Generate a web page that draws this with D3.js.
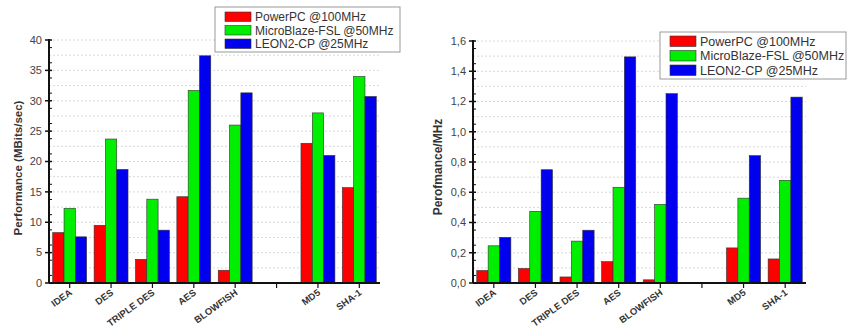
<!DOCTYPE html>
<html lang="en">
<head>
<meta charset="UTF-8">
<title>Performance comparison</title>
<script src="https://d3js.org/d3.v7.min.js"></script>
<style>
  body { margin: 0; background: #fff; }
  svg { font-family: "Liberation Sans", Arial, sans-serif; }
</style>
</head>
<body>
<div id="chart"></div>
<script>
// categories (the empty one is the gap between ciphers and hashes)
const categories = ["IDEA", "DES", "TRIPLE DES", "AES", "BLOWFISH", "", "MD5", "SHA-1"];
const seriesNames = ["PowerPC @100MHz", "MicroBlaze-FSL @50MHz", "LEON2-CP @25MHz"];
const seriesColors = ["#ff0000", "#00ee00", "#0000ee"];

// left chart: Performance (MBits/sec)
const ppcMbits   = [8.3, 9.5, 3.9, 14.2, 2.1, null, 23.0, 15.7];
const mbMbits    = [12.3, 23.7, 13.8, 31.7, 26.0, null, 28.0, 34.0];
const leonMbits  = [7.6, 18.7, 8.7, 37.4, 31.3, null, 21.0, 30.7];
const mbitsTicks = [0, 5, 10, 15, 20, 25, 30, 35, 40];

// right chart: Performance/MHz
const ppcMhz   = [0.083, 0.096, 0.040, 0.141, 0.021, null, 0.232, 0.159];
const mbMhz    = [0.246, 0.474, 0.277, 0.633, 0.520, null, 0.561, 0.679];
const leonMhz  = [0.302, 0.749, 0.349, 1.495, 1.252, null, 0.842, 1.229];
const mhzTicks = [0, 0.2, 0.4, 0.6, 0.8, 1.0, 1.2, 1.4, 1.6];

const svg = d3.select("#chart").append("svg")
  .attr("width", 848).attr("height", 333);

function drawChart(opt) {
  const g = svg.append("g");
  const x = d3.scaleBand().domain(d3.range(categories.length))
    .range([opt.x0, opt.x1]).padding(0);
  const groupW = x.bandwidth() * 0.82;
  const xs = d3.scaleBand().domain(d3.range(seriesNames.length)).range([0, groupW]);
  const y = d3.scaleLinear().domain([0, opt.max]).range([opt.yBottom, opt.yTop]);

  // grid (major + minor)
  const gridVals = d3.range(0, opt.max + opt.minor / 2, opt.minor).slice(1);
  g.append("g").selectAll("line").data(gridVals).join("line")
    .attr("x1", opt.x0).attr("x2", opt.x1)
    .attr("y1", d => y(d)).attr("y2", d => y(d))
    .attr("stroke", "#d8d8d8").attr("stroke-dasharray", "2,2");

  // bars
  opt.series.forEach((vals, si) => {
    g.append("g").selectAll("rect")
      .data(vals.map((v, i) => ({ v, i })).filter(d => d.v != null))
      .join("rect")
      .attr("x", d => x(d.i) + (x.bandwidth() - groupW) / 2 + xs(si))
      .attr("width", xs.bandwidth())
      .attr("y", d => y(d.v))
      .attr("height", d => y(0) - y(d.v))
      .attr("fill", seriesColors[si])
      .attr("stroke", "#333").attr("stroke-width", 0.6);
  });

  // y axis
  g.append("line").attr("x1", opt.x0).attr("x2", opt.x0)
    .attr("y1", y(opt.max) - 1).attr("y2", y(0))
    .attr("stroke", "#111").attr("stroke-width", 2);
  g.append("g").selectAll("line").data(gridVals.map(v => v - opt.minor)).join("line")
    .attr("x1", opt.x0).attr("x2", opt.x0 + 3)
    .attr("y1", d => y(d + opt.minor / 2)).attr("y2", d => y(d + opt.minor / 2))
    .attr("stroke", "#111").attr("stroke-width", 1);
  g.append("g").selectAll("line").data(opt.ticks).join("line")
    .attr("x1", opt.x0 - 4).attr("x2", opt.x0 + 3)
    .attr("y1", d => y(d)).attr("y2", d => y(d))
    .attr("stroke", "#111").attr("stroke-width", 1.5);
  g.append("g").selectAll("text").data(opt.ticks).join("text")
    .attr("x", opt.x0 - 7).attr("y", d => y(d))
    .attr("dy", "0.35em").attr("text-anchor", "end")
    .attr("font-size", 11).attr("fill", "#444")
    .text(opt.fmt);

  // x axis
  g.append("line").attr("x1", opt.x0).attr("x2", opt.x1)
    .attr("y1", y(0)).attr("y2", y(0))
    .attr("stroke", "#111").attr("stroke-width", 2);
  g.append("g").selectAll("line").data(d3.range(categories.length)).join("line")
    .attr("x1", d => x(d) + x.bandwidth() / 2).attr("x2", d => x(d) + x.bandwidth() / 2)
    .attr("y1", y(0)).attr("y2", y(0) + 5)
    .attr("stroke", "#111").attr("stroke-width", 1.2);
  g.append("g").selectAll("text").data(d3.range(categories.length)).join("text")
    .attr("transform", d => `translate(${x(d) + x.bandwidth() / 2 + 3},${y(0) + 11}) rotate(-36)`)
    .attr("text-anchor", "end")
    .attr("font-size", 9.5).attr("font-weight", "bold").attr("fill", "#333")
    .text(d => categories[d]);

  // y label
  g.append("text")
    .attr("transform", `translate(${opt.labelX},${opt.labelY}) rotate(-90)`)
    .attr("text-anchor", "middle")
    .attr("font-size", opt.labelSize).attr("font-weight", "bold").attr("fill", "#333")
    .text(opt.label);

  // legend
  const lg = g.append("g");
  lg.append("rect").attr("x", opt.lx).attr("y", opt.ly)
    .attr("width", opt.lw).attr("height", opt.lh)
    .attr("fill", "#fff").attr("stroke", "#999");
  seriesNames.forEach((name, i) => {
    const ry = opt.ly + opt.lpad + i * opt.lstep;
    lg.append("rect").attr("x", opt.lx + 10).attr("y", ry)
      .attr("width", 26).attr("height", opt.lstep - 4)
      .attr("fill", seriesColors[i]).attr("stroke", "#333").attr("stroke-width", 0.6);
    lg.append("text").attr("x", opt.lx + 40).attr("y", ry + (opt.lstep - 4) / 2)
      .attr("dy", "0.36em").attr("font-size", opt.lfont).attr("fill", "#333")
      .text(name);
  });
}

drawChart({
  x0: 49, x1: 380, yTop: 40, yBottom: 283, max: 40, minor: 2.5,
  ticks: mbitsTicks, fmt: d => d,
  series: [ppcMbits, mbMbits, leonMbits],
  label: "Performance (MBits/sec)", labelX: 22, labelY: 168, labelSize: 11.5,
  lx: 215, ly: 7, lw: 185, lh: 45, lpad: 5, lstep: 13.5, lfont: 12
});

drawChart({
  x0: 473, x1: 806, yTop: 41, yBottom: 283, max: 1.6, minor: 0.1,
  ticks: mhzTicks, fmt: d => d3.format(".1f")(d).replace(".", ","),
  series: [ppcMhz, mbMhz, leonMhz],
  label: "Perofmance/MHz", labelX: 442, labelY: 167, labelSize: 12,
  lx: 660, ly: 32, lw: 186, lh: 47, lpad: 4, lstep: 14.5, lfont: 12.5
});
</script>
</body>
</html>
